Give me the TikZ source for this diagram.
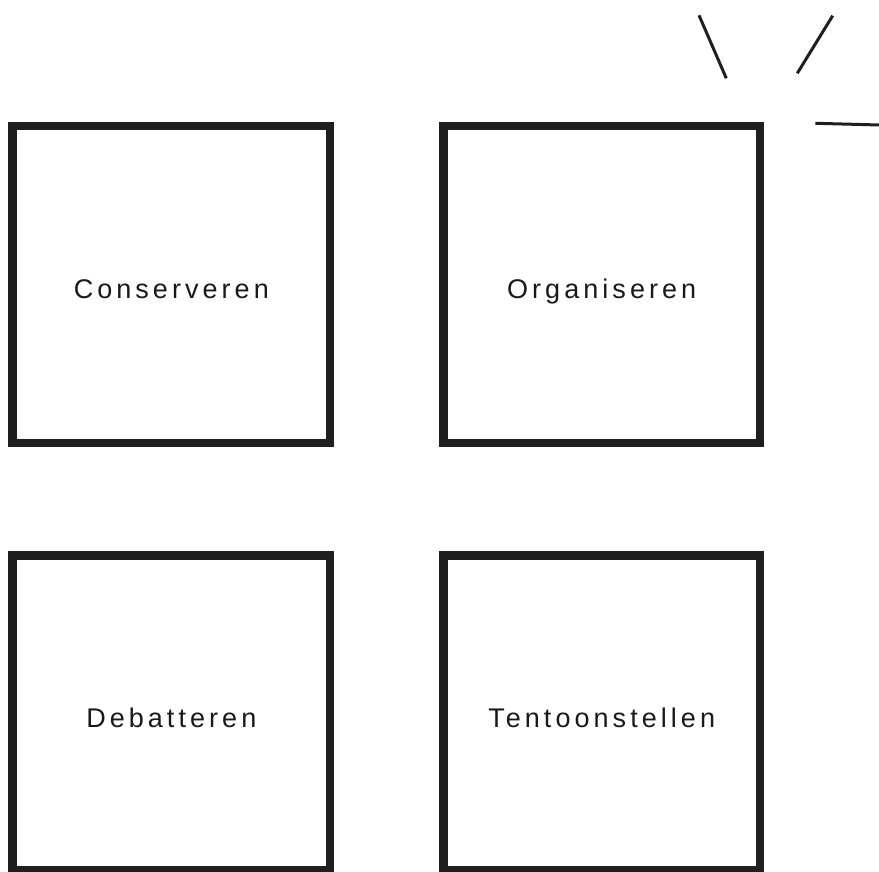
\documentclass[tikz,border=0pt]{standalone}
\usepackage{fontspec}
\setmainfont[LetterSpace=15]{Liberation Sans}
\begin{document}
\begin{tikzpicture}[x=1pt,y=1pt,
  box/.style={draw=black!88, line width=8.5pt, inner sep=0pt, align=center,
    font=\fontsize{27}{30}\selectfont, text=black!90,
    text height=29pt, text depth=0pt},
  ray/.style={draw=black!88, line width=3pt}]
\useasboundingbox (0,0) rectangle (879,872);
% boxes (y measured from the top: y = 872 - py)
\node[box, minimum width=317.5pt, minimum height=317pt] (cons) at (171.3,587.5) {Conserveren};
\node[box, minimum width=316.7pt, minimum height=317pt] (org) at (601.7,587.5) {Organiseren};
\node[box, minimum width=317.5pt, minimum height=315pt] (deb) at (171.3,159) {Debatteren};
\node[box, minimum width=316.7pt, minimum height=315pt] (tent) at (601.7,159) {Tentoonstellen};
% rays
\coordinate (r1a) at (699,856.7); \coordinate (r1b) at (726.3,793.7);
\coordinate (r2a) at (832.7,856.3); \coordinate (r2b) at (797.3,798.7);
\coordinate (r3a) at (815.3,748.7); \coordinate (r3b) at (879,747);
\draw[ray] (r1a) -- (r1b);
\draw[ray] (r2a) -- (r2b);
\draw[ray] (r3a) -- (r3b);
\end{tikzpicture}
\end{document}
